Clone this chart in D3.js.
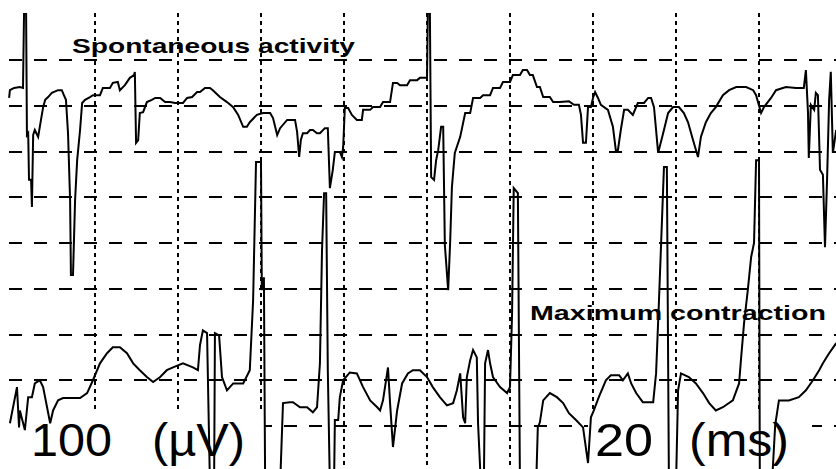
<!DOCTYPE html>
<html>
<head>
<meta charset="utf-8">
<script src="https://cdn.jsdelivr.net/npm/d3@7"></script>
<style>
  html, body { margin: 0; padding: 0; background: #fff; }
  #emg-chart { width: 836px; height: 469px; overflow: hidden; }
</style>
</head>
<body>
<div id="emg-chart"></div>
<script>
/* =========================================================
   DATA  (time in ms, amplitude in µV relative to trace baseline)
========================================================= */

const timeTicks = [20, 40, 60, 80, 100, 120, 140, 160, 180];
const voltTicks = [0, 100, 200, 300, 400, 500, 600, 700, 800];
const traceLabels = ['Spontaneous activity', 'Maximum contraction'];
const scaleLabels = ['100', '(µV)', '20', '(ms)'];

// spontaneous activity (top trace)
const spontTime = [
  -0.7, -0.5, 0.5, 1.9, 2.65, 2.9, 3.4, 3.6, 3.9, 4.1, 4.6, 4.8, 5.1, 5.5, 6.3, 6.7,
  7.5, 8.0, 8.7, 9.6, 11.1, 12.0, 12.5, 13.0, 13.5, 14.0, 14.2, 14.7, 15.2, 15.7, 16.4,
  16.9, 17.6, 18.8, 19.5, 21.2, 21.9, 23.6, 24.3, 25.5, 26.0, 27.2, 28.4, 29.4, 29.6,
  29.9, 30.4, 30.8, 31.6, 32.5, 33.7, 34.5, 35.7, 36.9, 38.1, 39.3, 41.2, 42.2, 43.4,
  44.6, 45.3, 46.5, 47.7, 48.4, 50.1, 51.8, 53.3, 54.5, 55.7, 56.6, 57.3, 59.0, 60.5,
  62.2, 62.9, 63.9, 64.6, 66.3, 68.2, 68.7, 69.2, 69.6, 70.1, 71.1, 71.8, 72.5, 73.5,
  74.2, 75.4, 76.1, 76.6, 77.3, 77.8, 79.0, 79.5, 79.8, 80.2, 81.0, 81.9, 83.1, 84.3,
  84.6, 86.3, 87.0, 88.7, 89.4, 91.1, 91.8, 92.8, 93.5, 95.2, 95.9, 97.6, 98.3, 100.0,
  100.2, 100.7, 101.0, 101.7, 102.2, 102.7, 103.4, 103.9, 104.3, 105.1, 105.6, 106.0,
  106.7, 108.0, 109.2, 110.4, 111.1, 112.8, 113.5, 115.2, 115.9, 117.6, 118.3, 120.0,
  120.7, 122.4, 123.1, 124.1, 124.8, 125.5, 126.5, 127.2, 128.0, 129.6, 130.4, 132.0,
  134.2, 135.4, 136.6, 137.1, 137.6, 138.3, 138.8, 139.5, 140.0, 140.5, 141.2, 141.9,
  143.6, 144.8, 145.5, 146.0, 146.7, 147.5, 148.4, 149.6, 150.8, 152.3, 153.3, 154.0,
  154.7, 155.7, 156.9, 158.1, 159.3, 160.7, 161.9, 162.9, 164.1, 165.3, 166.0, 167.2,
  168.4, 169.6, 171.3, 172.8, 174.5, 176.9, 178.6, 179.3, 180.5, 181.2, 182.9, 184.1,
  186.5, 188.9, 190.8, 191.3, 191.8, 192.0, 192.5, 193.3, 193.7, 194.2, 194.7, 195.4,
  195.9, 196.4, 196.9, 197.3, 197.8, 198.6
];
const spontVolt = [
  17, 34, 39, 41, 39, 203, 203, -64, -60, -162, -162, -221, -64, -53, -68, -46,
  -3, 13, 19, 28, 34, 34, 23, 13, -60, -206, -370, -370, -206, -119, -53,
  6, 13, 19, 23, 23, 39, 39, 50, 52, 34, 45, 61, 67, 74,
  -81, -75, -16, -14, 8, 13, 17, 17, 8, 8, 6, 6, 17, 19,
  30, 30, 39, 39, 34, 19, 8, -3, -20, -46, -46, -36, -20, -16,
  -16, -27, -64, -49, -31, -31, -57, -112, -75, -60, -60, -53, -53, -60,
  -60, -49, -49, -180, -140, -101, -101, -112, -90, -5, -5, -20, -31, -31,
  -9, -9, -3, -3, 8, 8, 50, 50, 45, 45, 56, 56, 61, 61,
  203, 203, -156, -162, -119, -97, -46, -46, -304, -403, -293, -178,
  -103, -68, -16, -16, 17, 17, 23, 23, 39, 39, 52, 52,
  67, 67, 78, 78, 67, 67, 41, 41, 19, 19, 8, 8,
  10, 2, 2, -20, -81, -81, -3, -3, 17, 30, 17, 2,
  -9, -46, -97, -97, -53, -9, -9, -20, 6, 6, 17, 17,
  -3, -103, -60, -16, -3, -3, -16, -36, -75, -112, -68, -36,
  -16, -3, 23, 34, 41, 41, 34, 23, -16, -3, 17, 34,
  41, 39, 39, 78, -14, -114, 2, -9, 28, 23, -140, -151,
  -309, -162, 13, 74, -103, -53
];

// maximum contraction (bottom trace)
const maxTime = [
  -0.5, 1.2, 1.7, 1.9, 3.1, 3.9, 4.8, 5.5, 6.7, 7.5, 9.2, 9.9, 11.1, 12.3, 16.4, 18.1,
  19.5, 21.2, 22.9, 24.3, 26.0, 27.7, 29.2, 30.8, 32.5, 34.0, 35.7, 37.3, 38.8, 41.2,
  43.6, 44.8, 45.3, 46.0, 47.0, 47.7, 48.7, 48.9, 49.9, 50.6, 51.8, 53.3, 55.7, 57.3,
  58.1, 58.8, 60.0, 60.2, 60.7, 61.0, 64.6, 65.3, 67.0, 67.7, 69.4, 71.1, 72.5, 73.5,
  74.2, 74.7, 75.2, 75.7, 76.1, 76.6, 77.6, 77.8, 78.6, 79.0, 79.8, 81.4, 83.1, 84.6,
  86.3, 88.0, 88.7, 89.4, 90.6, 91.1, 91.8, 92.8, 94.0, 95.4, 96.6, 98.3, 100.0, 101.4,
  103.1, 104.8, 106.3, 107.2, 108.0, 108.7, 109.2, 109.6, 110.4, 111.1, 112.0, 112.3,
  113.0, 113.7, 114.0, 114.7, 115.2, 115.9, 117.6, 119.3, 120.0, 120.5, 120.9, 121.9,
  122.4, 126.3, 126.7, 127.2, 128.0, 129.6, 131.3, 132.8, 134.2, 135.9, 137.6, 138.8,
  139.5, 140.2, 141.4, 143.1, 144.3, 146.3, 147.2, 148.4, 149.2, 150.4, 152.0, 154.5,
  155.2, 155.9, 157.1, 157.8, 158.3, 160.0, 160.5, 161.2, 163.1, 164.8, 166.5, 168.0,
  169.6, 171.3, 173.7, 175.2, 175.7, 176.4, 177.3, 178.1, 178.8, 179.3, 180.0, 180.2,
  183.1, 183.9, 184.8, 187.2, 189.6, 191.3, 193.0, 194.5, 195.4, 196.9, 198.6
];
const maxVolt = [
  -94, -15, -103, -66, -109, -37, -37, -7, 0, -15, -94, -66, -44, -39, -39, -28,
  0, 37, 59, 72, 72, 59, 37, 22, 7, -4, 7, 22, 28, 37,
  28, 22, 77, 109, 103, -230, -230, 103, 98, 7, -22, -7, -7, 22,
  175, 477, 477, 197, 225, -230, -230, -50, -48, -48, -59, -59, -70, -59,
  37, 284, 409, 409, 22, -230, -230, -87, -87, -37, 0, 17, 15, -15,
  -44, -59, -66, -44, 28, -50, -146, -66, -7, 15, 22, 22, 7, -15,
  -37, -55, -50, -22, 15, -81, -94, 7, 44, 66, 50, -94,
  -230, -230, 37, 66, 37, 7, -15, -28, -15, 146, 420, 409,
  -230, -230, -103, -92, -44, -28, -37, -50, -72, -87, -103, -181,
  -81, -66, -37, 0, 11, 11, 0, 15, -7, -28, -48, -48,
  15, 175, 466, 466, -230, -230, -22, 15, 7, -7, -28, -50,
  -66, -59, -44, -7, 50, 125, 197, 269, 300, 481, 481, -230,
  -230, -98, -44, -44, -37, -22, 0, 22, 37, 59, 81
];

/* =========================================================
   LAYOUT
========================================================= */

const W = 836;
const H = 469;
const PANEL = { left: 9, top: 13, right: 836, bottom: 469 };
const OFFSET = { spont: 700, max: 100 }; // baseline of each trace (panel µV)

const svg = d3
  .select('#emg-chart')
  .append('svg')
  .attr('width', W)
  .attr('height', H)
  .style('background', '#fff');

const xScale = d3.scaleLinear().domain([0, 200]).range([12, 842]);
const yScale = d3.scaleLinear().domain([0, 800]).range([426, 60]);

svg
  .append('defs')
  .append('clipPath')
  .attr('id', 'panel-clip')
  .append('rect')
  .attr('x', 0)
  .attr('y', PANEL.top)
  .attr('width', W)
  .attr('height', PANEL.bottom - PANEL.top);

/* =========================================================
   GRID
========================================================= */

const grid = svg.append('g');

grid
  .selectAll('.h-grid')
  .data(voltTicks)
  .enter()
  .append('line')
  .attr('class', 'h-grid')
  .attr('x1', PANEL.left)
  .attr('x2', PANEL.right)
  .attr('y1', (d) => Math.round(yScale(d)))
  .attr('y2', (d) => Math.round(yScale(d)))
  .attr('stroke', '#000')
  .attr('stroke-width', 2)
  .attr('stroke-dasharray', '13,12')
  .attr('shape-rendering', 'crispEdges');

grid
  .selectAll('.v-grid')
  .data(timeTicks)
  .enter()
  .append('line')
  .attr('class', 'v-grid')
  .attr('x1', (d) => Math.round(xScale(d)))
  .attr('x2', (d) => Math.round(xScale(d)))
  .attr('y1', PANEL.top)
  .attr('y2', PANEL.bottom)
  .attr('stroke', '#000')
  .attr('stroke-width', 2)
  .attr('stroke-dasharray', '4,4')
  .attr('shape-rendering', 'crispEdges');

/* =========================================================
   SCALE LABELS (white boxes hide the grid underneath)
========================================================= */

const labelLayer = svg.append('g');
labelLayer.append('rect').attr('x', 0).attr('y', 413).attr('width', 265).attr('height', 56).attr('fill', '#fff');
labelLayer.append('rect').attr('x', 588).attr('y', 413).attr('width', 224).attr('height', 56).attr('fill', '#fff');

[
  { text: scaleLabels[0], x: 31, len: 81 },
  { text: scaleLabels[1], x: 152, len: 93 },
  { text: scaleLabels[2], x: 595, len: 58 },
  { text: scaleLabels[3], x: 689, len: 100 },
].forEach((l) => {
  labelLayer
    .append('text')
    .attr('x', l.x)
    .attr('y', 456)
    .attr('font-family', '"Liberation Sans", Arial, sans-serif')
    .attr('font-size', 46)
    .attr('textLength', l.len)
    .attr('lengthAdjust', 'spacingAndGlyphs')
    .attr('fill', '#000')
    .text(l.text);
});

/* =========================================================
   TRACE TITLES
========================================================= */

const titles = [
  { text: traceLabels[0], x: 72, y: 53, len: 283 },
  { text: traceLabels[1], x: 530, y: 320, len: 296 },
];
titles.forEach((t) => {
  svg
    .append('text')
    .attr('x', t.x)
    .attr('y', t.y)
    .attr('font-family', '"Liberation Sans", Arial, sans-serif')
    .attr('font-weight', 'bold')
    .attr('font-size', 21)
    .attr('textLength', t.len)
    .attr('lengthAdjust', 'spacingAndGlyphs')
    .attr('fill', '#000')
    .text(t.text);
});

/* =========================================================
   TRACES
========================================================= */

function drawTrace(times, volts, offset) {
  const pts = times.map((t, i) => ({ t: t, v: volts[i] }));
  const line = d3
    .line()
    .x((d) => xScale(d.t))
    .y((d) => yScale(d.v + offset));

  svg
    .append('path')
    .attr('clip-path', 'url(#panel-clip)')
    .datum(pts)
    .attr('d', line)
    .attr('fill', 'none')
    .attr('stroke', '#000')
    .attr('stroke-width', 2)
    .attr('stroke-linejoin', 'miter');
}

drawTrace(spontTime, spontVolt, OFFSET.spont);
drawTrace(maxTime, maxVolt, OFFSET.max);
</script>
</body>
</html>
